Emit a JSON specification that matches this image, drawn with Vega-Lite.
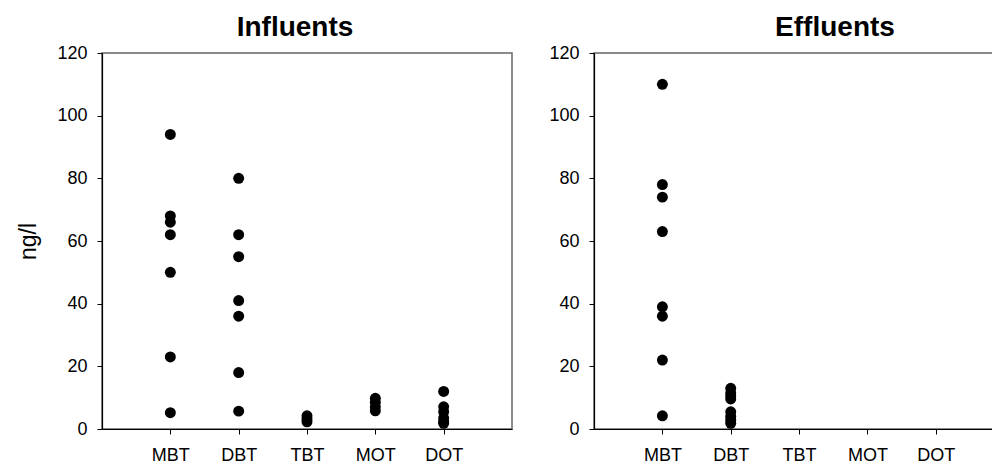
{
  "$schema": "https://vega.github.io/schema/vega-lite/v6.json",
  "background": "white",
  "padding": {"left": 17, "top": 13, "right": 0, "bottom": 0},
  "spacing": 35,
  "datasets": {
    "influents": [
      {"compound": "MBT", "value": 94}, {"compound": "MBT", "value": 68}, {"compound": "MBT", "value": 66},
      {"compound": "MBT", "value": 62}, {"compound": "MBT", "value": 50}, {"compound": "MBT", "value": 23},
      {"compound": "MBT", "value": 5.2},
      {"compound": "DBT", "value": 80}, {"compound": "DBT", "value": 62}, {"compound": "DBT", "value": 55},
      {"compound": "DBT", "value": 41}, {"compound": "DBT", "value": 36}, {"compound": "DBT", "value": 18},
      {"compound": "DBT", "value": 5.7},
      {"compound": "TBT", "value": 4.2}, {"compound": "TBT", "value": 3.2}, {"compound": "TBT", "value": 2.3},
      {"compound": "MOT", "value": 9.8}, {"compound": "MOT", "value": 8.5}, {"compound": "MOT", "value": 7.1},
      {"compound": "MOT", "value": 5.8},
      {"compound": "DOT", "value": 12}, {"compound": "DOT", "value": 7.1}, {"compound": "DOT", "value": 5.5},
      {"compound": "DOT", "value": 3.5}, {"compound": "DOT", "value": 2.4}, {"compound": "DOT", "value": 1.8}
    ],
    "effluents": [
      {"compound": "MBT", "value": 110}, {"compound": "MBT", "value": 78}, {"compound": "MBT", "value": 74},
      {"compound": "MBT", "value": 63}, {"compound": "MBT", "value": 39}, {"compound": "MBT", "value": 36},
      {"compound": "MBT", "value": 22}, {"compound": "MBT", "value": 4.2},
      {"compound": "DBT", "value": 13}, {"compound": "DBT", "value": 11.5}, {"compound": "DBT", "value": 10.5},
      {"compound": "DBT", "value": 9.6}, {"compound": "DBT", "value": 5.5}, {"compound": "DBT", "value": 4},
      {"compound": "DBT", "value": 2.8}, {"compound": "DBT", "value": 1.8}
    ]
  },
  "hconcat": [
    {
      "width": 410,
      "height": 376,
      "title": {"text": "Influents", "dx": -12},
      "data": {"name": "influents"},
      "mark": {"type": "circle", "size": 120, "color": "black", "opacity": 1},
      "encoding": {
        "x": {
          "field": "compound", "type": "nominal",
          "scale": {"type": "point", "padding": 1, "domain": ["MBT", "DBT", "TBT", "MOT", "DOT"]},
          "axis": {"title": null, "labelAngle": 0, "labelPadding": 12}
        },
        "y": {
          "field": "value", "type": "quantitative",
          "scale": {"domain": [0, 120], "nice": false},
          "axis": {"title": "ng/l", "values": [0, 20, 40, 60, 80, 100, 120]}
        }
      }
    },
    {
      "width": 402,
      "height": 376,
      "title": {"text": "Effluents", "dx": 40},
      "data": {"name": "effluents"},
      "mark": {"type": "circle", "size": 120, "color": "black", "opacity": 1},
      "encoding": {
        "x": {
          "field": "compound", "type": "nominal",
          "scale": {"type": "point", "padding": 0.9416, "align": 0.5315, "domain": ["MBT", "DBT", "TBT", "MOT", "DOT"]},
          "axis": {"title": null, "labelAngle": 0, "labelPadding": 12}
        },
        "y": {
          "field": "value", "type": "quantitative",
          "scale": {"domain": [0, 120], "nice": false},
          "axis": {"title": null, "values": [0, 20, 40, 60, 80, 100, 120]}
        }
      }
    }
  ],
  "config": {
    "font": "Liberation Sans",
    "view": {"stroke": "#666666", "strokeWidth": 1.5},
    "title": {"font": "Liberation Sans", "fontSize": 28, "fontWeight": "bold", "color": "black", "baseline": "alphabetic", "offset": 2, "anchor": "middle"},
    "axis": {
      "grid": false,
      "domainColor": "black",
      "domainWidth": 1.2,
      "tickColor": "black",
      "tickSize": 5,
      "labelColor": "black",
      "labelFont": "Liberation Sans",
      "labelFontSize": 18,
      "labelPadding": 10,
      "titleFont": "Liberation Sans",
      "titleFontSize": 23,
      "titleFontWeight": "normal",
      "titleColor": "black",
      "titlePadding": 16
    }
  }
}
